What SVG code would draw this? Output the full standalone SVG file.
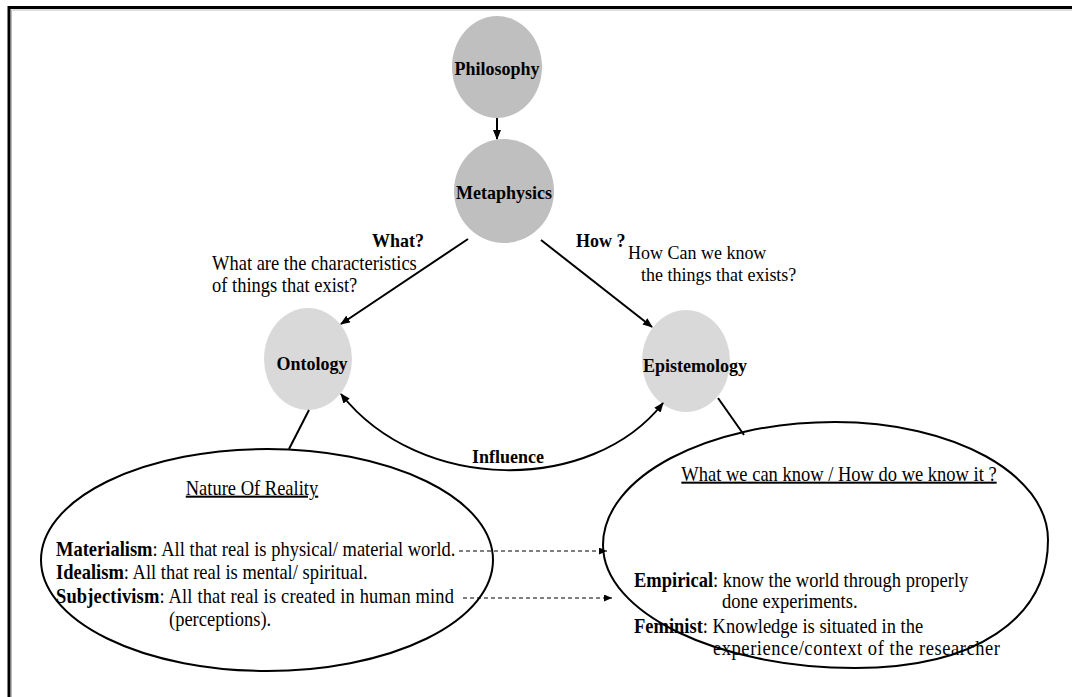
<svg xmlns="http://www.w3.org/2000/svg" width="1072" height="697" viewBox="0 0 1072 697">
<defs>
<marker id="ah" markerUnits="userSpaceOnUse" markerWidth="10" markerHeight="8" refX="9" refY="4" orient="auto-start-reverse">
<path d="M0,0 L10,4 L0,8 z" fill="#000"/>
</marker>
<marker id="ahs" markerUnits="userSpaceOnUse" markerWidth="8" markerHeight="7" refX="8" refY="3.5" orient="auto">
<path d="M0,0 L8,3.5 L0,7 z" fill="#000"/>
</marker>
</defs>
<style>
.t{font-family:"Liberation Serif","Times New Roman",serif;font-size:18.5px;fill:#000;transform-box:fill-box;transform-origin:center;transform:scaleY(1.1)}
.n{font-size:18px}
.b{font-weight:bold}
.dark{fill:#bfbfbf}
.light{fill:#d9d9d9}
.big{fill:#fff;stroke:#000;stroke-width:2}
.c{stroke:#000;stroke-width:2;fill:none}
.d{stroke:#000;stroke-width:1.2;fill:none;stroke-dasharray:4 3}
</style>
<rect width="1072" height="697" fill="#fff"/>
<g id="frame">
<path d="M9,697 V7.5 H1072" fill="none" stroke="#000" stroke-width="3"/>
<path d="M11.5,697 V10 H1072" fill="none" stroke="#bbb" stroke-width="1"/>
</g>
<g id="philosophy">
<ellipse class="dark" cx="497" cy="67" rx="45" ry="51"/>
<text class="t b n" x="497" y="74" text-anchor="middle">Philosophy</text>
</g>
<g id="metaphysics">
<ellipse class="dark" cx="504" cy="191" rx="50" ry="52"/>
<text class="t b n" x="504" y="198" text-anchor="middle">Metaphysics</text>
</g>
<g id="ontology">
<ellipse class="light" cx="308" cy="359" rx="44" ry="51"/>
<text class="t b n" x="312" y="369" text-anchor="middle">Ontology</text>
</g>
<g id="epistemology">
<ellipse class="light" cx="686" cy="361" rx="44" ry="51"/>
<text class="t b n" x="643" y="371">Epistemology</text>
</g>
<g id="labels">
<text class="t b n" x="372" y="246">What?</text>
<text class="t" x="212" y="269">What are the characteristics</text>
<text class="t" x="212" y="291">of things that exist?</text>
<text class="t b n" x="576" y="246">How ?</text>
<text class="t n" x="628" y="258">How Can we know</text>
<text class="t n" x="641" y="280">the things that exists?</text>
<text class="t b n" x="472" y="462">Influence</text>
</g>
<g id="nature-of-reality">
<ellipse class="big" cx="267" cy="560" rx="226" ry="111"/>
<text class="t" x="252" y="494" text-anchor="middle" text-decoration="underline">Nature Of Reality</text>
<text class="t" x="56" y="555"><tspan class="b">Materialism</tspan>: All that real is physical/ material world.</text>
<text class="t" x="56" y="578"><tspan class="b">Idealism</tspan>: All that real is mental/ spiritual.</text>
<text class="t" x="56" y="602" textLength="398" lengthAdjust="spacing"><tspan class="b">Subjectivism</tspan>: All that real is created in human mind</text>
<text class="t" x="169" y="625">(perceptions).</text>
</g>
<g id="knowledge">
<path class="big" d="M603,545 C603,477 707,422 835,422 C953,422 1048,474 1048,540 C1048,619 975,668 855,668 C718,668 603,613 603,545 Z"/>
<text class="t" x="839" y="480" text-anchor="middle" text-decoration="underline">What we can know / How do we know it ?</text>
<text class="t" x="634" y="586"><tspan class="b">Empirical</tspan>: know the world through properly</text>
<text class="t" x="722" y="607">done experiments.</text>
<text class="t" x="634" y="632"><tspan class="b">Feminist</tspan>: Knowledge is situated in the</text>
<text class="t" x="713" y="654" textLength="287" lengthAdjust="spacing">experience/context of the researcher</text>
</g>
<g id="connectors">
<line class="c" x1="497" y1="118" x2="497" y2="139" marker-end="url(#ah)"/>
<line class="c" x1="468" y1="239" x2="341" y2="324" marker-end="url(#ah)"/>
<line class="c" x1="541" y1="240" x2="652" y2="327" marker-end="url(#ah)"/>
<path class="c" d="M341,394 C420,494 592,494 663,403" marker-start="url(#ah)" marker-end="url(#ah)"/>
<line class="c" x1="309" y1="410" x2="289" y2="449"/>
<line class="c" x1="718" y1="398" x2="744" y2="435"/>
<line class="d" x1="459" y1="551" x2="607" y2="551" marker-end="url(#ahs)"/>
<line class="d" x1="463" y1="598" x2="612" y2="598" marker-end="url(#ahs)"/>
</g>
</svg>
